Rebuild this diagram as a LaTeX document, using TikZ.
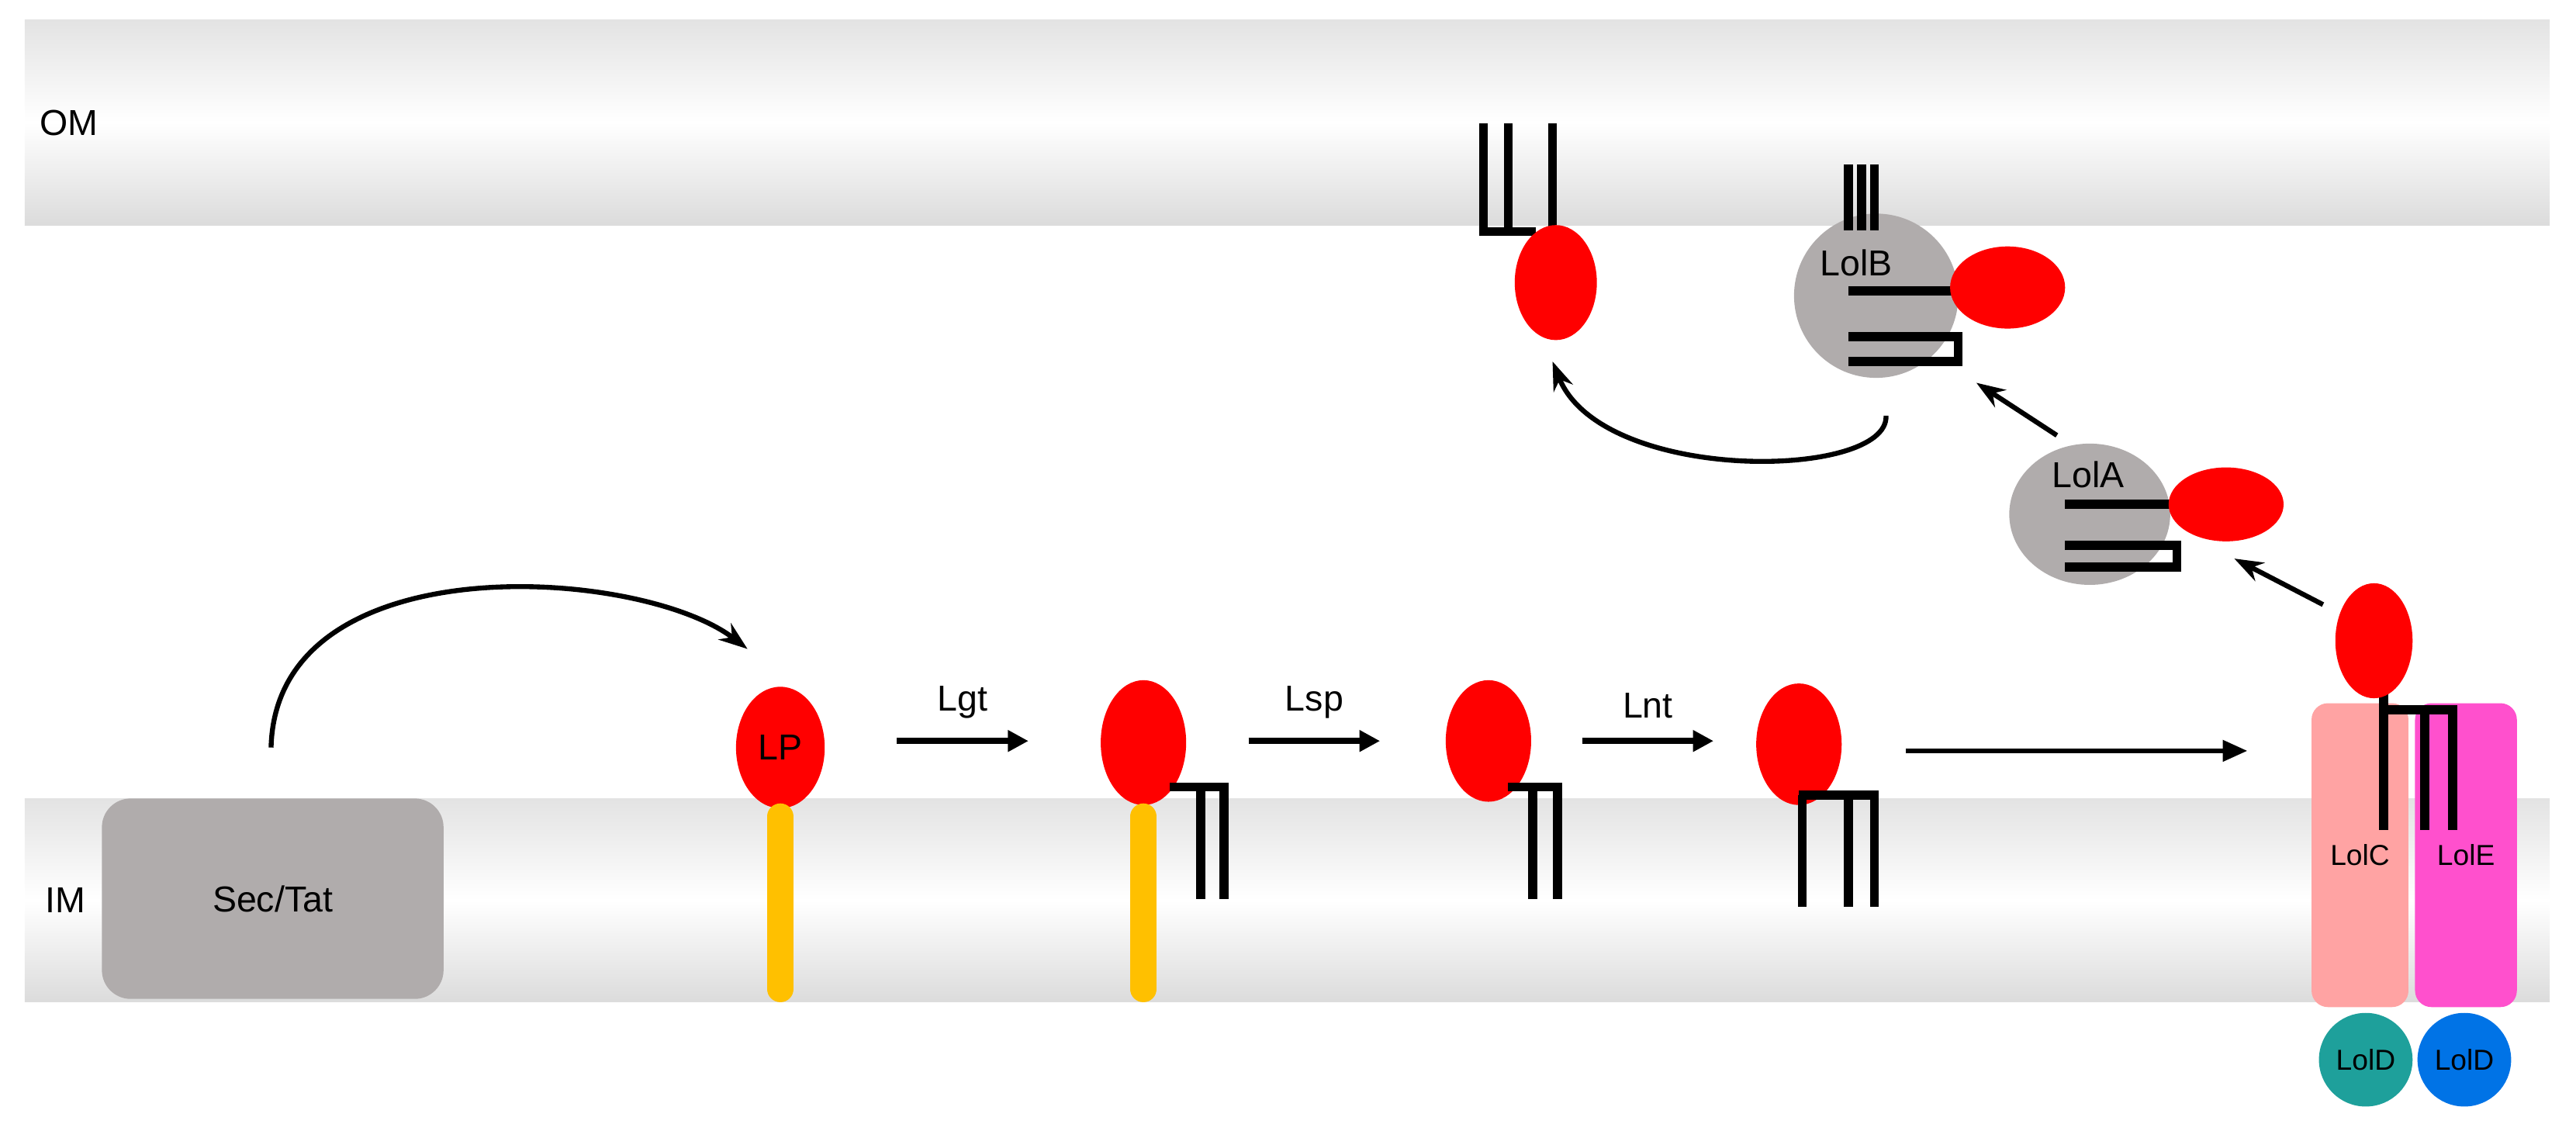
\documentclass[tikz,border=0pt]{standalone}
\usepackage{fontspec}
\setmainfont{Liberation Sans}
\usetikzlibrary{arrows.meta, positioning, shapes.geometric}
\definecolor{secgray}{RGB}{176,172,172}
\definecolor{lolgray}{RGB}{176,172,172}
\definecolor{lolC}{RGB}{255,163,163}
\definecolor{lolE}{RGB}{255,80,205}
\definecolor{lolDa}{RGB}{30,160,155}
\definecolor{lolDb}{RGB}{0,115,230}
\definecolor{stem}{RGB}{255,192,0}
\tikzset{
  memb/.style={top color=gray!22, bottom color=gray!28, middle color=white, draw=none},
  prot/.style={ellipse, fill=red, draw=none, inner sep=0pt},
  lipid/.style={line width=0.11cm, draw=black},
  steparrow/.style={line width=0.08cm, -{Triangle[length=0.25cm,width=0.25cm]}},
  curv/.style={line width=0.06cm, -{Stealth[length=0.35cm,width=0.25cm]}},
  lbl/.style={font=\fontsize{12.5}{14}\selectfont}
}
\begin{document}
\begin{tikzpicture}[x=0.02cm, y=-0.02cm]
\useasboundingbox (0,0) rectangle (1568,688);
%membranes
\shade[memb] (15,12) rectangle (1552,137);
\shade[memb] (15,486) rectangle (1552,610);
\node[lbl] (om) at (42,75) {OM};
\node[lbl] (im) at (40,548) {IM};
%Sec/Tat
\node[fill=secgray, rounded corners=0.35cm, minimum width=4.16cm, minimum height=2.44cm, lbl] (sec) at (166,547) {Sec/Tat};
%inner membrane steps
\node[prot, minimum width=1.08cm, minimum height=1.48cm, lbl] (lp) at (475,455) {LP};
\draw[stem, line width=0.32cm, line cap=round] (475,497) -- (475,602);
\node[prot, minimum width=1.04cm, minimum height=1.52cm] (p2) at (696,452) {};
\draw[stem, line width=0.32cm, line cap=round] (696,497) -- (696,602);
\draw[lipid] (712,479) -- (745,479) -- (745,547) (731,479) -- (731,547);
\node[prot, minimum width=1.04cm, minimum height=1.48cm] (p3) at (906,451) {};
\draw[lipid] (918,479) -- (948,479) -- (948,547) (933,479) -- (933,547);
\node[prot, minimum width=1.04cm, minimum height=1.48cm] (p4) at (1095,453) {};
\draw[lipid] (1095,484) -- (1141,484) -- (1141,552) (1125,484) -- (1125,552) (1097,484) -- (1097,552);
\coordinate (a1) at (546,451); \coordinate (b1) at (626,451);
\coordinate (a2) at (760,451); \coordinate (b2) at (840,451);
\coordinate (a3) at (963,451); \coordinate (b3) at (1043,451);
\draw[steparrow] (a1) -- node[above=0.12cm, lbl] {Lgt} (b1);
\draw[steparrow] (a2) -- node[above=0.12cm, lbl] {Lsp} (b2);
\draw[steparrow] (a3) -- node[above=0.12cm, lbl] {Lnt} (b3);
\coordinate (a4) at (1160,457); \coordinate (b4) at (1368,457);
\draw[line width=0.06cm, -{Triangle[length=0.3cm,width=0.25cm]}] (a4) -- (b4);
\coordinate (s0) at (165,455);
\coordinate (s1) at (455,395);
\draw[curv] (s0) .. controls (168,330) and (390,345) .. (s1);
%Lol transporter
\node[fill=lolC, rounded corners=0.2cm, minimum width=1.18cm, minimum height=3.7cm, font=\fontsize{10}{12}\selectfont] (lolc) at (1436.5,520.5) {LolC};
\node[fill=lolE, rounded corners=0.2cm, minimum width=1.24cm, minimum height=3.7cm, font=\fontsize{10}{12}\selectfont] (lole) at (1501,520.5) {LolE};
\node[circle, fill=lolDa, minimum size=1.14cm, font=\fontsize{10}{12}\selectfont] (lold1) at (1440,645) {LolD};
\node[circle, fill=lolDb, minimum size=1.14cm, font=\fontsize{10}{12}\selectfont] (lold2) at (1500,645) {LolD};
\draw[lipid] (1451,415) -- (1451,505) (1451,432) -- (1493,432) -- (1493,505) (1476,432) -- (1476,505);
\node[prot, minimum width=0.94cm, minimum height=1.4cm] (p5) at (1445,390) {};
%LolA
\node[ellipse, fill=lolgray, minimum width=1.96cm, minimum height=1.72cm] (lola) at (1272,313) {};
\node[lbl] at (1271,289) {LolA};
\draw[lipid] (1257,307) -- (1322,307) (1257,332) -- (1325,332) -- (1325,345) -- (1257,345);
\node[prot, minimum width=1.4cm, minimum height=0.9cm] (pa) at (1355,307) {};
\coordinate (c1) at (1414,368); \coordinate (d1) at (1360,340);
\draw[curv] (c1) -- (d1);
%LolB
\node[circle, fill=lolgray, minimum size=2cm] (lolb) at (1142,180) {};
\node[lbl] at (1130,160) {LolB};
\draw[lipid] (1125,100) -- (1125,140) (1133,100) -- (1133,140) (1141,100) -- (1141,140);
\draw[lipid] (1125,177) -- (1190,177) (1125,205) -- (1192,205) -- (1192,220) -- (1125,220);
\node[prot, minimum width=1.4cm, minimum height=1cm] (pb) at (1222,175) {};
\coordinate (c2) at (1252,265); \coordinate (d2) at (1203,233);
\draw[curv] (c2) -- (d2);
%outer membrane lipoprotein
\draw[lipid] (903,75) -- (903,141) -- (935,141) (918,75) -- (918,141) (945,75) -- (945,145);
\node[prot, minimum width=1.0cm, minimum height=1.4cm] (pom) at (947,172) {};
\coordinate (c3) at (1148,253); \coordinate (d3) at (945,220);
\draw[curv] (c3) .. controls (1150,292) and (975,295) .. (d3);
\end{tikzpicture}
\end{document}
